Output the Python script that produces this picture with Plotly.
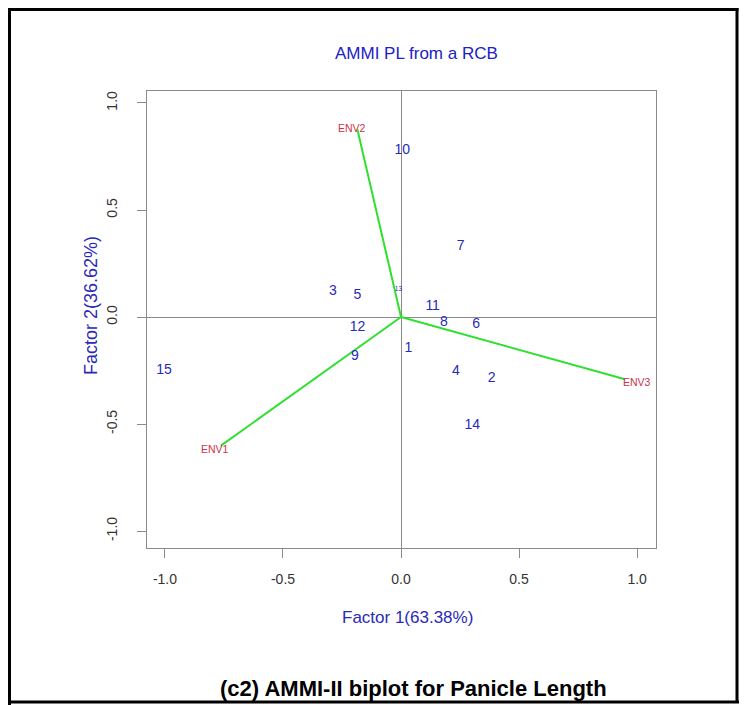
import plotly.graph_objects as go

# ---- data ----
gen_labels = ["1", "2", "3", "4", "5", "6", "7", "8", "9", "10", "11", "12", "13", "14", "15"]
gen_f1 = [0.031, 0.384, -0.289, 0.232, -0.185, 0.318, 0.253, 0.182, -0.195, 0.005, 0.134, -0.184, -0.011, 0.302, -1.004]
gen_f2 = [-0.146, -0.288, 0.117, -0.254, 0.100, -0.037, 0.329, -0.027, -0.185, 0.780, 0.051, -0.048, 0.131, -0.505, -0.251]

env_labels = ["ENV1", "ENV2", "ENV3"]
env_f1 = [-0.763, -0.185, 0.949]
env_f2 = [-0.601, 0.877, -0.291]

tick_vals = [-1.0, -0.5, 0.0, 0.5, 1.0]
tick_text = ["-1.0", "-0.5", "0.0", "0.5", "1.0"]

# ---- layout geometry (screen pixels; page body has an 8px margin) ----
OFF = 8
W, H = 747 - OFF, 705 - OFF
L, R, T, B = 147, 656, 91, 548
PW, PH = R - L, B - T


def px(xp):
    return (xp - L) / PW


def py(yp):
    return (B - yp) / PH


FONT = "Liberation Sans, Arial, Helvetica, sans-serif"
BLUE = "#2a2ab8"
TITLE_BLUE = "#2020c8"
ENV_RED = "#cc3348"
GREEN = "#2fe02f"
GRAY = "#8a8a8a"

fig = go.Figure()

# environment vectors
for ex, ey in zip(env_f1, env_f2):
    fig.add_trace(go.Scatter(x=[0, ex], y=[0, ey], mode="lines",
                             line=dict(color=GREEN, width=2), hoverinfo="skip",
                             showlegend=False))

# genotype labels
gen_sizes = [6.5 if g == "13" else 14 for g in gen_labels]
fig.add_trace(go.Scatter(x=gen_f1, y=gen_f2, mode="text", text=gen_labels,
                         textposition="middle center",
                         textfont=dict(family=FONT, size=gen_sizes, color=BLUE),
                         showlegend=False))

# environment labels
env_shift = {"ENV1": (-6, -3), "ENV2": (-5, 1), "ENV3": (12, -3)}
for lab, ex, ey in zip(env_labels, env_f1, env_f2):
    sx, sy = env_shift[lab]
    fig.add_annotation(x=ex, y=ey, text=lab, showarrow=False, xshift=sx, yshift=sy,
                       font=dict(family=FONT, size=10.5, color=ENV_RED))

# title, axis titles, caption
fig.add_annotation(x=px(416), y=py(54), xref="paper", yref="paper", text="AMMI PL from a RCB",
                   showarrow=False, font=dict(family=FONT, size=17, color=TITLE_BLUE),
                   xanchor="center", yanchor="middle")
fig.add_annotation(x=px(407), y=py(617), xref="paper", yref="paper", text="Factor 1(63.38%)",
                   showarrow=False, font=dict(family=FONT, size=17, color=BLUE),
                   xanchor="center", yanchor="middle")
fig.add_annotation(x=px(91), y=py(306), xref="paper", yref="paper", text="Factor 2(36.62%)",
                   showarrow=False, textangle=-90, font=dict(family=FONT, size=18, color=BLUE),
                   xanchor="center", yanchor="middle")
fig.add_annotation(x=px(413), y=py(688), xref="paper", yref="paper",
                   text="<b>(c2) AMMI-II biplot for Panicle Length</b>",
                   showarrow=False, font=dict(family=FONT, size=22, color="black"),
                   xanchor="center", yanchor="middle")

# outer border (kept inside the drawable page)
bw = 3
top_y, left_x, right_x, bot_y = 9.5, 9.5, 737, 702
fig.add_shape(type="line", xref="paper", yref="paper", x0=px(0), x1=px(right_x + 1.5), y0=py(top_y), y1=py(top_y),
              line=dict(color="black", width=bw), layer="above")
fig.add_shape(type="line", xref="paper", yref="paper", x0=px(left_x), x1=px(left_x), y0=py(top_y - 1.5), y1=py(705),
              line=dict(color="black", width=bw), layer="above")
fig.add_shape(type="line", xref="paper", yref="paper", x0=px(right_x), x1=px(right_x), y0=py(top_y - 1.5), y1=py(bot_y),
              line=dict(color="black", width=bw), layer="above")
fig.add_shape(type="line", xref="paper", yref="paper", x0=px(0), x1=px(747), y0=py(bot_y), y1=py(bot_y),
              line=dict(color="black", width=bw), layer="above")

axis_common = dict(
    tickvals=tick_vals, ticktext=tick_text, ticks="outside", ticklen=9, tickwidth=1,
    tickcolor=GRAY, showline=True, mirror=True, linecolor=GRAY, linewidth=1,
    showgrid=False, zeroline=True, zerolinecolor=GRAY, zerolinewidth=1,
    tickfont=dict(family=FONT, size=14, color="#333333"),
)

fig.update_layout(
    width=W, height=H,
    margin=dict(l=L - OFF, r=747 - R, t=T - OFF, b=H + OFF - B, autoexpand=False),
    plot_bgcolor="white", paper_bgcolor="white",
    xaxis=dict(range=[-1.076, 1.080], ticklabelstandoff=9, **axis_common),
    yaxis=dict(range=[-1.079, 1.056], tickangle=-90, ticklabelstandoff=14, **axis_common),
    showlegend=False,
)

fig.write_html("out.html")
